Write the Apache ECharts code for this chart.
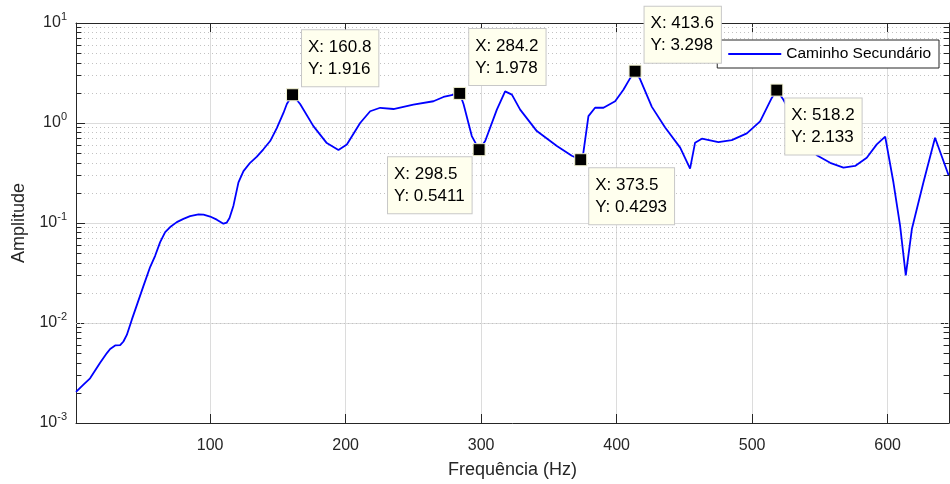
<!DOCTYPE html>
<html>
<head>
<meta charset="utf-8">
<title>Caminho Secundário</title>
<script src="https://cdn.jsdelivr.net/npm/echarts@6/dist/echarts.min.js"></script>
<style>html,body{margin:0;padding:0;background:#fff;}</style>
</head>
<body>
<div id="main" style="width:950px;height:484px;"></div>
<script type="text/javascript">

// resposta em frequencia do caminho secundario
var freq = [1, 6.5, 11.4, 18.8, 23.8, 26.2, 29.9, 33.6, 36.0, 38.5, 42.2, 45.9, 50.8, 55.7, 59.4, 63.1, 66.8, 70.5,
    75.4, 80.3, 85.2, 91.4, 95.1, 100, 104.9, 109.8, 112.3, 114.3, 117.2, 120.9, 124.6, 129.5, 134.5,
    139.3, 144.3, 149.2, 154.1, 156.6, 160.8, 166.4, 176.2, 186.1, 194.7, 200.9,
    210.7, 218.1, 225.5, 235.3, 250, 264.8, 272.2, 284.2, 287, 293.1, 298.5, 303, 311.6, 317.7,
    322.7, 328.8, 341.1, 355.9, 366.9, 373.5, 375.5, 379.2, 384.1, 390.3, 398.9, 405, 410, 413.6,
    417.3, 426, 435.8, 446.9, 454.2, 457.9, 462.9, 475.1, 485, 496.1, 505.9, 514.5, 518.2, 523.1,
    530, 540, 547.7, 557.6, 567.4, 576, 584.6, 592, 598.2, 604.3, 609.2, 613.4, 617.9, 626.4,
    635, 645];
var amp = [0.00205, 0.00242, 0.0028, 0.0040, 0.0050, 0.0055, 0.00596, 0.0060, 0.00653, 0.0076, 0.0108, 0.0151, 0.0235, 0.0363, 0.047, 0.0644, 0.081, 0.091,
    0.102, 0.110, 0.117, 0.122, 0.121, 0.116, 0.108, 0.0985, 0.101, 0.112, 0.149, 0.255, 0.33, 0.40, 0.461,
    0.546, 0.66, 0.89, 1.26, 1.55, 1.916, 1.55, 0.93, 0.63, 0.537, 0.61,
    1.0, 1.31, 1.42, 1.38, 1.53, 1.65, 1.82, 1.978, 1.55, 0.74, 0.5411, 0.66, 1.36, 2.07,
    1.92, 1.36, 0.83, 0.59, 0.47, 0.4293, 0.51, 1.17, 1.42, 1.42, 1.65, 2.15, 2.81, 3.298,
    2.75, 1.45, 0.9, 0.567, 0.35, 0.636, 0.697, 0.645, 0.674, 0.787, 1.04, 1.78, 2.133, 1.71,
    1.15, 0.68, 0.475, 0.40, 0.358, 0.372, 0.45, 0.611, 0.73, 0.254, 0.094, 0.030, 0.087, 0.254,
    0.712, 0.30];

// data tips
var tipX = [160.8, 284.2, 298.5, 373.5, 413.6, 518.2];
var tipY = [1.916, 1.978, 0.5411, 0.4293, 3.298, 2.133];
var tipSide = ['ra', 'ra', 'lb', 'rb', 'ra', 'rb'];

var xMin = 1, xMax = 645.3;
var yMin = 0.001, yMax = 10;

var font = 'Liberation Sans, Arial, Helvetica, sans-serif';
var ink = '#262626';

var data = freq.map(function (f, i) { return [f, amp[i]]; });

// grade secundaria (2..9 em cada decada) + tracinhos das bordas
var minorLines = [];
for (var d = -3; d < 1; d++) {
    for (var k = 2; k <= 9; k++) {
        var v = k * Math.pow(10, d);
        minorLines.push({ yAxis: v, lineStyle: { type: [1, 3], color: '#c2c2c2', width: 1 } });
        minorLines.push([{ coord: [xMin, v], lineStyle: { type: 'solid', color: ink, width: 1 } }, { coord: [xMin + 4, v] }]);
        minorLines.push([{ coord: [xMax - 4, v], lineStyle: { type: 'solid', color: ink, width: 1 } }, { coord: [xMax, v] }]);
    }
}

var places = {
    ra: { position: [16, -2], align: 'left', verticalAlign: 'bottom' },
    rb: { position: [15, 15], align: 'left', verticalAlign: 'top' },
    lb: { position: [-1, 14], align: 'right', verticalAlign: 'top' }
};

var tips = tipX.map(function (x, i) {
    var p = places[tipSide[i]];
    return {
        coord: [x, tipY[i]],
        label: {
            position: p.position, align: p.align, verticalAlign: p.verticalAlign,
            formatter: '{t|X: ' + x + '}\n{t|Y: ' + tipY[i] + '}'
        }
    };
});

function supLabel(v) {
    var e = Math.round(Math.log10(v));
    return '{b|10}{s|' + e + '}';
}

var myChart = echarts.init(document.getElementById('main'), null, { renderer: 'canvas' });

var option = {
    animation: false,
    backgroundColor: '#fff',
    textStyle: { fontFamily: font },
    grid: { left: 76, right: 1, top: 23, bottom: 58 },
    legend: {
        data: ['Caminho Secundário'],
        right: 11, top: 40,
        itemWidth: 53, itemHeight: 14,
        itemStyle: { opacity: 0 },
        backgroundColor: '#fff',
        borderColor: ink, borderWidth: 1, borderRadius: 0,
        padding: [6, 8, 6, 10],
        textStyle: { fontSize: 15.5, color: '#000', fontFamily: font }
    },
    xAxis: [{
        type: 'value', min: xMin, max: xMax, position: 'bottom',
        name: 'Frequência (Hz)', nameLocation: 'middle', nameGap: 38,
        nameTextStyle: { fontSize: 18, color: ink, fontFamily: font },
        axisLine: { show: true, lineStyle: { color: ink, width: 1 } },
        axisTick: { show: true, inside: true, length: 9, lineStyle: { color: ink } },
        axisLabel: { margin: 15, showMinLabel: false, showMaxLabel: false, color: ink, fontSize: 16, fontFamily: font },
        splitLine: { show: true, lineStyle: { color: '#dcdcdc', width: 1 } }
    }, {
        type: 'value', min: xMin, max: xMax, position: 'top',
        axisLine: { show: true, lineStyle: { color: ink, width: 1 } },
        axisTick: { show: true, inside: true, length: 9, lineStyle: { color: ink } },
        axisLabel: { show: false },
        splitLine: { show: false }
    }],
    yAxis: [{
        type: 'log', logBase: 10, min: yMin, max: yMax, position: 'left',
        name: 'Amplitude', nameLocation: 'middle', nameGap: 46,
        nameTextStyle: { fontSize: 18, color: ink, fontFamily: font },
        axisLine: { show: true, lineStyle: { color: ink, width: 1 } },
        axisTick: { show: true, inside: true, length: 9, lineStyle: { color: ink } },
        axisLabel: {
            margin: 9, color: ink, fontFamily: font,
            formatter: supLabel,
            rich: {
                b: { fontSize: 16, color: ink, fontFamily: font, verticalAlign: 'bottom', lineHeight: 16 },
                s: { fontSize: 11, color: ink, fontFamily: font, verticalAlign: 'bottom', lineHeight: 11, padding: [0, 0, 9, 0] }
            }
        },
        splitLine: { show: true, lineStyle: { color: '#dcdcdc', width: 1 } }
    }, {
        type: 'log', logBase: 10, min: yMin, max: yMax, position: 'right',
        axisLine: { show: true, lineStyle: { color: ink, width: 1 } },
        axisTick: { show: true, inside: true, length: 9, lineStyle: { color: ink } },
        axisLabel: { show: false },
        splitLine: { show: false }
    }],
    series: [{
        name: 'Caminho Secundário',
        type: 'line',
        xAxisIndex: 0, yAxisIndex: 0,
        data: data,
        symbol: 'none',
        smooth: false,
        lineStyle: { color: '#0000ff', width: 1.8 },
        itemStyle: { color: '#0000ff' },
        markLine: {
            silent: true, symbol: ['none', 'none'], z: 1,
            label: { show: false },
            data: minorLines
        },
        markPoint: {
            silent: true,
            symbol: 'rect', symbolSize: 12,
            itemStyle: { color: '#000', borderColor: '#f3f3d2', borderWidth: 1 },
            label: {
                show: true, color: '#000', fontFamily: font,
                backgroundColor: '#ffffee', borderColor: '#c8c8c8', borderWidth: 1,
                padding: [6, 7, 6, 6],
                rich: {
                    t: { fontSize: 17, lineHeight: 22, color: '#000', fontFamily: font, align: 'left' }
                }
            },
            data: tips
        }
    }]
};

myChart.setOption(option);

</script>
</body>
</html>
